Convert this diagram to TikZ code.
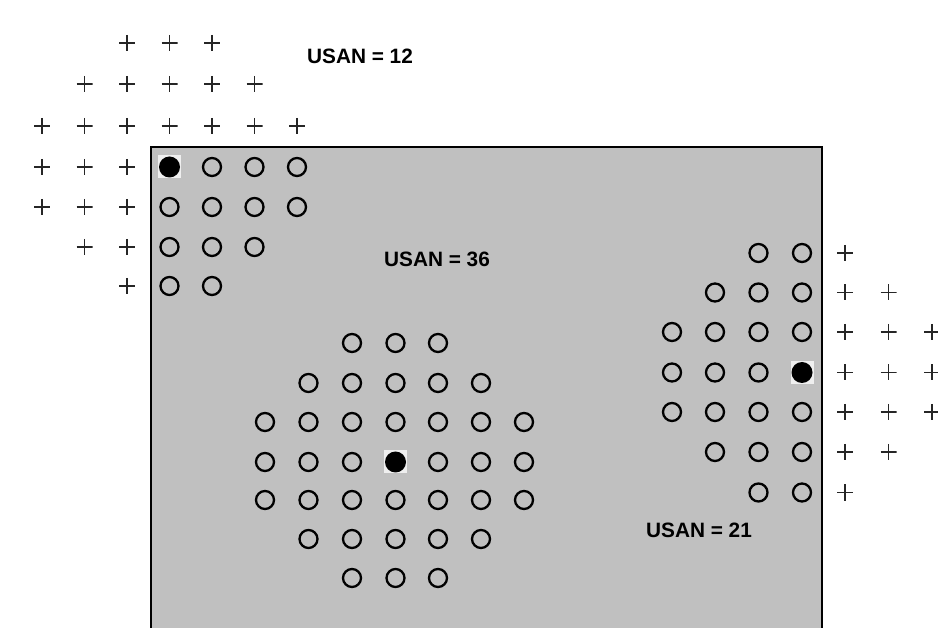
\documentclass[tikz,border=0pt]{standalone}
\usepackage{fontspec}
\setmainfont{Liberation Sans}
\definecolor{usangray}{RGB}{192,192,192}
\begin{document}
\begin{tikzpicture}[x=1pt,y=-1pt,
  recep/.style={circle, draw=black, line width=2.3pt, minimum size=18pt, inner sep=0pt},
  nucleus/.style={circle, fill=black, minimum size=21pt, inner sep=0pt},
  halo/.style={fill=white, fill opacity=0.75, minimum size=23pt, inner sep=0pt},
  outer/.style={minimum size=16pt, inner sep=0pt, path picture={\draw[line width=1.2pt, black!85]
      (path picture bounding box.north) -- (path picture bounding box.south)
      (path picture bounding box.west) -- (path picture bounding box.east);}},
  lbl/.style={font=\fontsize{20.8}{22}\selectfont\bfseries, inner sep=0pt},
  frame/.style={line width=2.5pt, draw=black}]
\useasboundingbox (0,0) rectangle (938,628);
% mask region
\fill[usangray] (151,147) rectangle (822,640);
\draw[frame] (151,640) -- (151,147) -- (822,147) -- (822,640);
% ---------- top-left mask (USAN = 12) ----------
\def\TLx{{42,84.5,127,169.5,212,254.5,297}}
\def\TLy{{43,84,126,167,207,247,286}}
\foreach \c/\r in {2/0,3/0,4/0, 1/1,2/1,3/1,4/1,5/1, 0/2,1/2,2/2,3/2,4/2,5/2,6/2,
                   0/3,1/3,2/3, 0/4,1/4,2/4, 1/5,2/5, 2/6}
  \node[outer] (a-\c-\r) at ({\TLx[\c]},{\TLy[\r]}) {};
\foreach \c/\r in {4/3,5/3,6/3, 3/4,4/4,5/4,6/4, 3/5,4/5,5/5, 3/6,4/6}
  \node[recep] (a-\c-\r) at ({\TLx[\c]},{\TLy[\r]}) {};
\node[halo] (a-halo) at ({\TLx[3]},{\TLy[3]}) {};
\node[nucleus] (a-3-3) at ({\TLx[3]},{\TLy[3]}) {};
\node[lbl] (l12) at (360,56) {USAN = 12};
% ---------- centre mask (USAN = 36) ----------
\def\CTx{{265,308.5,352,395.5,438,481,524}}
\def\CTy{{343,383,422,462,500,539,578}}
\foreach \c/\r in {2/0,3/0,4/0, 1/1,2/1,3/1,4/1,5/1,
                   0/2,1/2,2/2,3/2,4/2,5/2,6/2,
                   0/3,1/3,2/3,4/3,5/3,6/3,
                   0/4,1/4,2/4,3/4,4/4,5/4,6/4,
                   1/5,2/5,3/5,4/5,5/5, 2/6,3/6,4/6}
  \node[recep] (b-\c-\r) at ({\CTx[\c]},{\CTy[\r]}) {};
\node[halo] (b-halo) at ({\CTx[3]},{\CTy[3]}) {};
\node[nucleus] (b-3-3) at ({\CTx[3]},{\CTy[3]}) {};
\node[lbl] (l36) at (437,259) {USAN = 36};
% ---------- right mask (USAN = 21) ----------
\def\RTx{{672,715,758.5,802,845,888.5,932}}
\def\RTy{{253,292.5,332,372.5,412,452,492.5}}
\foreach \c/\r in {2/0,3/0, 1/1,2/1,3/1, 0/2,1/2,2/2,3/2, 0/3,1/3,2/3,
                   0/4,1/4,2/4,3/4, 1/5,2/5,3/5, 2/6,3/6}
  \node[recep] (c-\c-\r) at ({\RTx[\c]},{\RTy[\r]}) {};
\node[halo] (c-halo) at ({\RTx[3]},{\RTy[3]}) {};
\node[nucleus] (c-3-3) at ({\RTx[3]},{\RTy[3]}) {};
\foreach \c/\r in {4/0, 4/1,5/1, 4/2,5/2,6/2, 4/3,5/3,6/3, 4/4,5/4,6/4, 4/5,5/5, 4/6}
  \node[outer] (c-\c-\r) at ({\RTx[\c]},{\RTy[\r]}) {};
\node[lbl] (l21) at (699,530) {USAN = 21};
\end{tikzpicture}
\end{document}
